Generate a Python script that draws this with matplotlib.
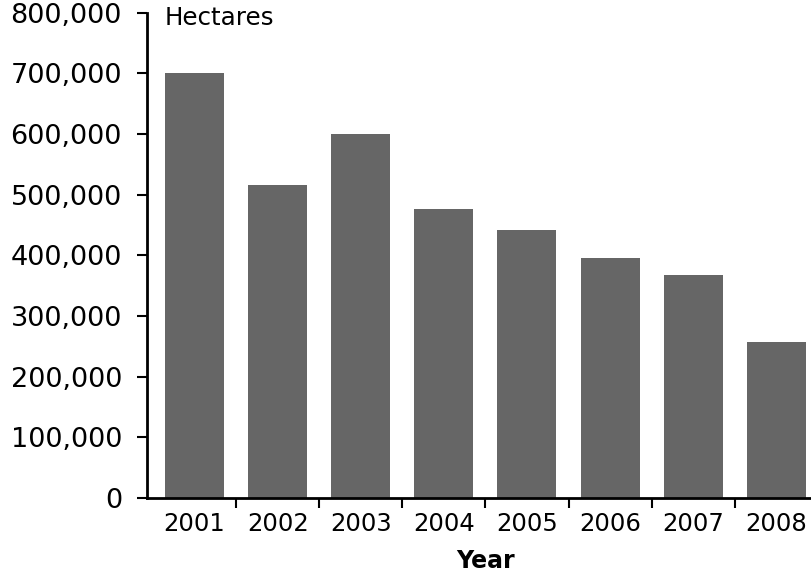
import numpy as np
import matplotlib.pyplot as plt
from matplotlib.ticker import FuncFormatter

# data
years = ['2001', '2002', '2003', '2004', '2005', '2006', '2007', '2008']
hectares = [701000, 516000, 600000, 476000, 441000, 395000, 367000, 257000]
y_ticks = [0, 100000, 200000, 300000, 400000, 500000, 600000, 700000, 800000]

plt.rcParams['font.family'] = 'DejaVu Sans'

fig = plt.figure(figsize=(8.12, 5.8), dpi=100)
ax = fig.add_axes([147 / 812, 82 / 580, 665 / 812, 485.4 / 580])

x = np.arange(len(years))
ax.bar(x, hectares, width=0.71, color='#666666')

ax.set_xlim(-0.572, 7.43)
ax.set_ylim(0, 800000)

ax.spines['top'].set_visible(False)
ax.spines['right'].set_visible(False)
ax.spines['left'].set_linewidth(2)
ax.spines['bottom'].set_linewidth(2)

ax.set_yticks(y_ticks)
ax.yaxis.set_major_formatter(FuncFormatter(lambda v, p: f'{int(v):,}'))
ax.tick_params(axis='y', length=7, width=1.5, pad=11, labelsize=19.5,
               colors='black', direction='out')

# boundary ticks without labels, labels at bar centres
ax.set_xticks(x[:-1] + 0.5)
ax.set_xticklabels([])
ax.set_xticks(x, minor=True)
ax.set_xticklabels(years, minor=True)
ax.tick_params(axis='x', which='major', length=7, width=1.5, direction='out')
ax.tick_params(axis='x', which='minor', length=0, pad=10, labelsize=17.5)

fig.text(165 / 812, 1 - 18 / 580, 'Hectares', fontsize=17.7, ha='left', va='center')
fig.text(486 / 812, 1 - 561 / 580, 'Year', fontsize=17, fontweight='bold',
         ha='center', va='center')

fig.savefig('out.png', dpi=100)
